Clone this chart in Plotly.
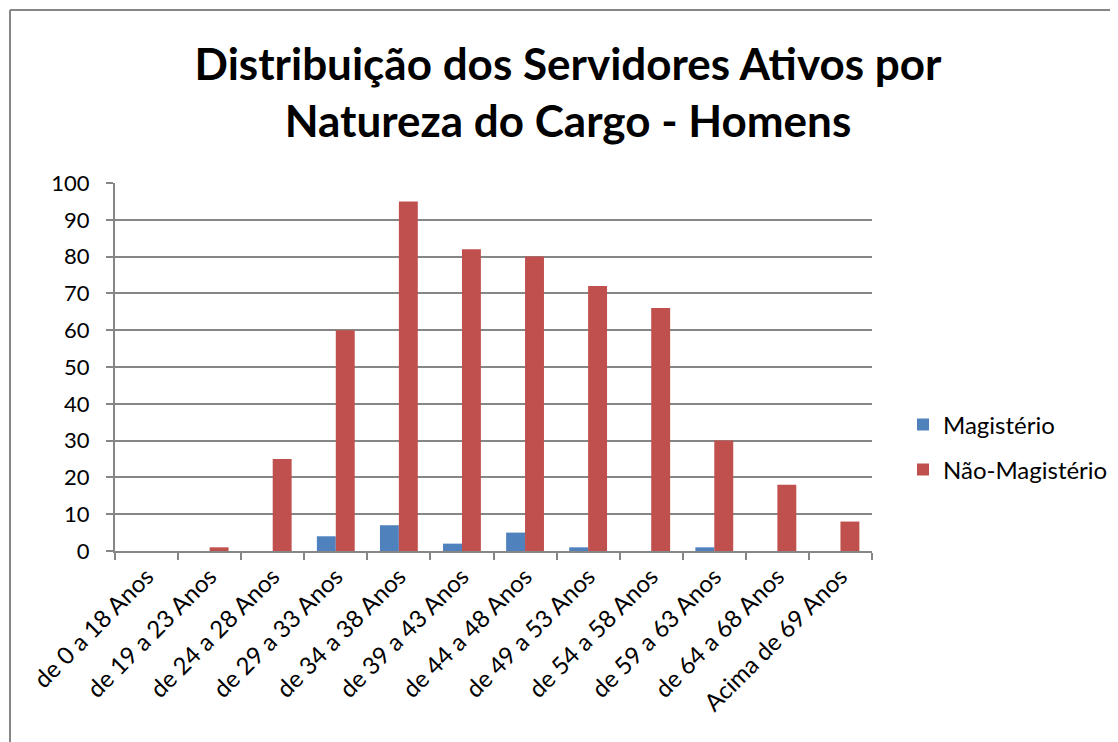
import plotly.graph_objects as go

categories = ["de 0 a 18 Anos", "de 19 a 23 Anos", "de 24 a 28 Anos", "de 29 a 33 Anos",
              "de 34 a 38 Anos", "de 39 a 43 Anos", "de 44 a 48 Anos", "de 49 a 53 Anos",
              "de 54 a 58 Anos", "de 59 a 63 Anos", "de 64 a 68 Anos", "Acima de 69 Anos"]
magisterio = [0, 0, 0, 4, 7, 2, 5, 1, 0, 1, 0, 0]
nao_magisterio = [0, 1, 25, 60, 95, 82, 80, 72, 66, 30, 18, 8]
y_ticks = [0, 10, 20, 30, 40, 50, 60, 70, 80, 90, 100]

# page body offset is 8px; figure coords = screen - 8
OFF = 8
W, H = 1118 - OFF, 742 - OFF
L, R, T, B = 115 - OFF, 872 - OFF, 183 - OFF, 551 - OFF
PW, PH = R - L, B - T

def px(xs):
    return (xs - OFF - L) / PW

def py(ys):
    return (B - (ys - OFF)) / PH

fig = go.Figure()
fig.add_trace(go.Bar(x=categories, y=magisterio, name="Magistério", legend="legend",
                     marker=dict(color="#4F81BD", line=dict(width=0))))
fig.add_trace(go.Bar(x=categories, y=nao_magisterio, name="Não-Magistério", legend="legend2",
                     marker=dict(color="#C0504D", line=dict(width=0))))

leg_common = dict(xanchor="left", yanchor="middle", font=dict(size=24),
                  bgcolor="rgba(0,0,0,0)", borderwidth=0)

border = dict(color="#868686", width=2)

fig.update_layout(
    width=W, height=H,
    margin=dict(l=L, r=W - R, t=T, b=H - B, autoexpand=False),
    paper_bgcolor="white", plot_bgcolor="white",
    barmode="group", bargap=0.4, bargroupgap=0,
    font=dict(family="Lato, Liberation Sans, sans-serif", color="black", size=22),
    title=dict(text="<b>Distribuição dos Servidores Ativos por<br>Natureza do Cargo - Homens</b>",
               x=(568 - OFF) / W, xref="container", xanchor="center",
               y=1 - (80 - OFF) / H, yref="container", yanchor="middle",
               font=dict(size=44, family="Lato, sans-serif", color="black")),
    legend=dict(x=px(903), y=py(425), **leg_common),
    legend2=dict(x=px(903), y=py(470), **leg_common),
    showlegend=True,
    xaxis=dict(type="category", tickangle=-45, tickson="boundaries",
               ticks="outside", ticklen=7, tickcolor="#868686", tickwidth=2,
               showline=True, linecolor="#868686", linewidth=2,
               showgrid=False, tickfont=dict(size=24)),
    yaxis=dict(range=[0, 100], tickvals=y_ticks, ticks="outside", ticklen=7,
               tickcolor="#868686", tickwidth=2, showline=True, linecolor="#868686", linewidth=2,
               showgrid=True, gridcolor="#868686", gridwidth=1.5, zeroline=False,
               ticklabelstandoff=12, tickfont=dict(size=22)),
    shapes=[
        dict(type="line", xref="paper", yref="paper",
             x0=px(10), x1=px(1130), y0=py(10), y1=py(10), line=border, layer="below"),
        dict(type="line", xref="paper", yref="paper",
             x0=px(10), x1=px(10), y0=py(10), y1=py(760), line=border, layer="below"),
    ]
)

fig.write_html("out.html")
